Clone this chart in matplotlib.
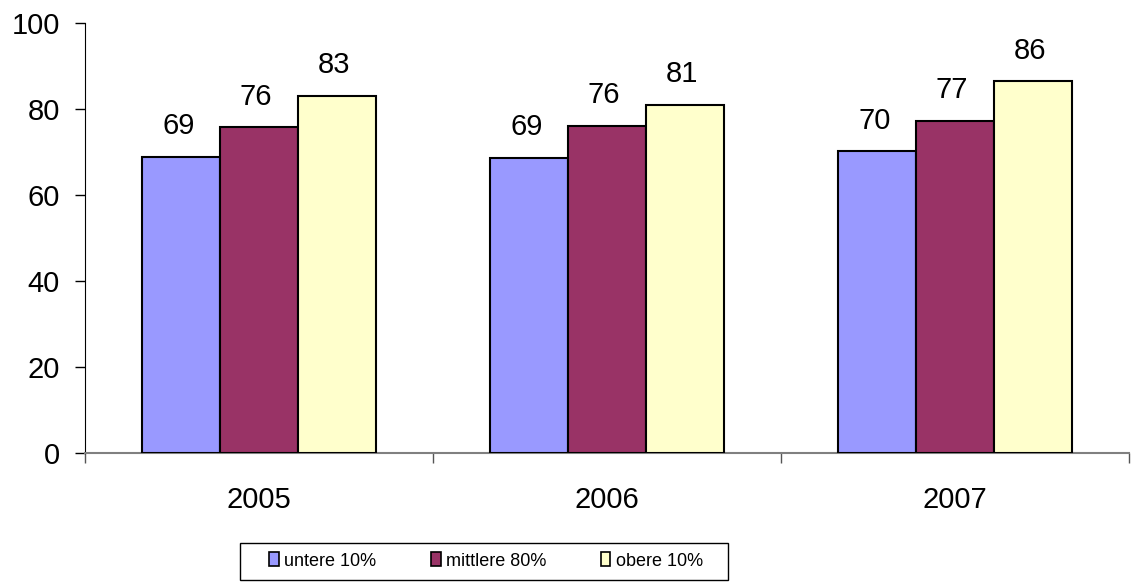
import numpy as np
import matplotlib.pyplot as plt
from matplotlib.patches import Patch, Rectangle

plt.rcParams['font.family'] = ['Liberation Sans', 'DejaVu Sans']

# data
jahre = ['2005', '2006', '2007']
serien = ['untere 10%', 'mittlere 80%', 'obere 10%']
untere = [68.8, 68.6, 70.1]
mittlere = [75.7, 76.0, 77.2]
obere = [83.0, 80.9, 86.4]
labels = [[69, 69, 70], [76, 76, 77], [83, 81, 86]]
farben = ['#9999FF', '#993366', '#FFFFCC']

W, H = 1133, 588
fig = plt.figure(figsize=(W / 100, H / 100), dpi=100)
ax = fig.add_axes([85/W, (H-452.7)/H, (1129-85)/W, 430/H])

x = np.arange(len(jahre)) + 0.5
w = 0.224
werte = [untere, mittlere, obere]
for i, (vals, col) in enumerate(zip(werte, farben)):
    pos = x + (i - 1) * w
    ax.bar(pos, vals, width=w, color=col, edgecolor='black', linewidth=1.5, zorder=3)
    for p, v, lab in zip(pos, vals, labels[i]):
        ax.annotate(str(lab), (p, v), xytext=(-2, 12), textcoords='offset points',
                    ha='center', va='bottom', fontsize=21)

ax.set_xlim(0, 3)
ax.set_ylim(0, 100)
ax.set_yticks([0, 20, 40, 60, 80, 100])
ax.tick_params(axis='y', labelsize=21, length=7, width=1, direction='out', pad=11)
ax.set_xticks([0, 1, 2, 3])
ax.set_xticklabels([])
ax.set_xticks(x, minor=True)
ax.set_xticklabels(jahre, minor=True)
ax.tick_params(axis='x', which='major', length=7, width=1, color='#555555')
ax.tick_params(axis='x', which='minor', length=0, labelsize=21, pad=24)

for s in ['top', 'right']:
    ax.spines[s].set_visible(False)
ax.spines['left'].set_color('black')
ax.spines['bottom'].set_color('#808080')
ax.spines['bottom'].set_linewidth(1.5)

# legend box
fig.patches.append(Rectangle((240/W, 1 - 580/H), (728-240)/W, 37/H,
                             transform=fig.transFigure, facecolor='white',
                             edgecolor='black', linewidth=1.0))
handles = [Patch(facecolor=c, edgecolor='black', linewidth=1.2) for c in farben]
leg = fig.legend(handles, serien, loc='center', bbox_to_anchor=(486/W, 1 - 561/H),
                 ncol=3, frameon=False, handlelength=0.55, handleheight=0.8,
                 handletextpad=0.3, columnspacing=3.0, borderaxespad=0,
                 fontsize=13)

fig.savefig('out.png', dpi=100)
